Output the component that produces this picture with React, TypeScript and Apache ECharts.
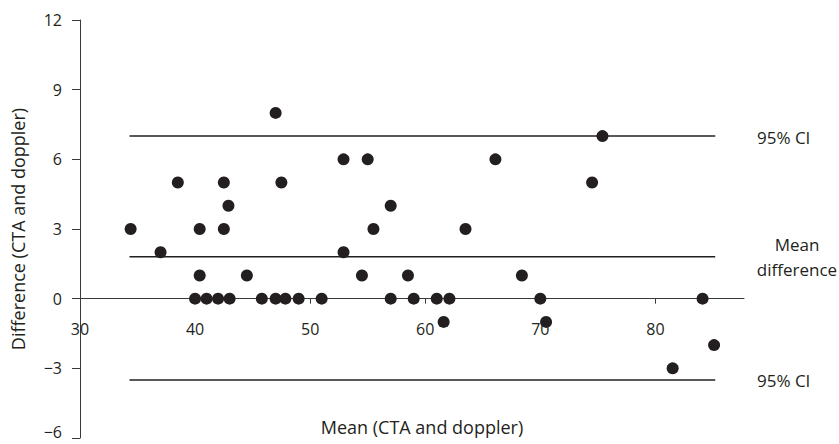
import React, { useEffect, useRef } from "react";
import * as echarts from "echarts";

// Bland–Altman points: [mean, difference]
const meanValues: number[] = [
  34.4, 40.4, 42.5, 55.5, 63.5,
  37, 52.9,
  38.5, 42.5, 47.5, 74.5,
  40.4, 44.5, 54.5, 58.5, 68.4,
  42.9, 57,
  47,
  52.9, 55, 66.1,
  75.4,
  40, 41, 42, 43, 45.8, 47, 47.85, 49, 51, 57, 59, 61, 62.1, 70, 84.1,
  61.6, 70.5,
  81.5,
  85.1,
];
const diffValues: number[] = [
  3, 3, 3, 3, 3,
  2, 2,
  5, 5, 5, 5,
  1, 1, 1, 1, 1,
  4, 4,
  8,
  6, 6, 6,
  7,
  0, 0, 0, 0, 0, 0, 0, 0, 0, 0, 0, 0, 0, 0, 0,
  -1, -1,
  -3,
  -2,
];

const meanDifference = 1.8;
const upperCI = 7;
const lowerCI = -3.5;
const lineStart = 34.3;
const lineEnd = 85.2;

const yTicks = { min: -6, max: 12, interval: 3 };
const xTicks = { min: 30, max: 87.7, interval: 10 };

const xAxisName = "Mean (CTA and doppler)";
const yAxisName = "Difference (CTA and doppler)";
const ciLabel = "95% CI";
const meanLabel = "Mean\ndifference";

const FONT = "'Open Sans', sans-serif";
const INK = "#231f20";

const GRID = { left: 80, right: 95, top: 20, bottom: 6 };
const HEIGHT = 444;

export default function App() {
  const ref = useRef<HTMLDivElement>(null);
  useEffect(() => {
    if (!ref.current) return;
    const chart = echarts.init(ref.current, undefined, { renderer: "svg" });
    const points = meanValues.map((m, i) => [m, diffValues[i]]);
    const gridHeight = HEIGHT - GRID.top - GRID.bottom;
    // move the x axis up so it crosses the y axis at 0
    const zeroOffset = -((0 - yTicks.min) / (yTicks.max - yTicks.min)) * gridHeight;
    const refLine = (y: number) => ({
      type: "line",
      data: [
        [lineStart, y],
        [lineEnd, y],
      ],
      showSymbol: false,
      symbol: "none",
      silent: true,
      lineStyle: { color: INK, width: 1.5 },
      z: 1,
    });
    const annot = (x: number, y: number, text: string, align: string) => ({
      type: "text",
      x,
      y,
      style: {
        text,
        fontFamily: FONT,
        fontSize: 17,
        lineHeight: 25,
        fill: INK,
        textAlign: align,
        textVerticalAlign: "middle",
      },
    });
    chart.setOption({
      animation: false,
      grid: { ...GRID, containLabel: false, outerBoundsMode: "none" },
      xAxis: {
        type: "value",
        position: "bottom",
        offset: zeroOffset,
        min: xTicks.min,
        max: xTicks.max,
        interval: xTicks.interval,
        name: xAxisName,
        nameLocation: "middle",
        nameGap: 119,
        nameTextStyle: { fontFamily: FONT, fontSize: 18, color: INK, padding: [0, 0, 0, 20] },
        axisLine: { onZero: false, lineStyle: { color: "#3a3a3a", width: 1 } },
        axisTick: { show: true, length: 5, lineStyle: { color: "#3a3a3a" } },
        axisLabel: {
          showMaxLabel: false,
          margin: 22,
          fontFamily: FONT,
          fontSize: 16,
          color: INK,
        },
        splitLine: { show: false },
      },
      yAxis: {
        type: "value",
        min: yTicks.min,
        max: yTicks.max,
        interval: yTicks.interval,
        name: yAxisName,
        nameLocation: "middle",
        nameGap: 53,
        nameRotate: 90,
        nameTextStyle: { fontFamily: FONT, fontSize: 18, color: INK },
        axisLine: { show: true, lineStyle: { color: "#3a3a3a", width: 1 } },
        axisTick: { show: true, length: 8, lineStyle: { color: "#3a3a3a" } },
        axisLabel: {
          margin: 18,
          fontFamily: FONT,
          fontSize: 16,
          lineHeight: 13,
          color: INK,
          formatter: (v: number) => {
            const s = v < 0 ? "\u2212" + Math.abs(v) : String(v);
            // lift the bottom-most label so it stays inside the page
            return v === yTicks.min ? s + "\n " : s;
          },
        },
        splitLine: { show: false },
      },
      series: [
        refLine(upperCI),
        refLine(meanDifference),
        refLine(lowerCI),
        {
          type: "scatter",
          data: points,
          symbol: "circle",
          symbolSize: 12,
          itemStyle: { color: INK, opacity: 1 },
          z: 3,
        },
      ],
      graphic: [
        annot(757, 137, ciLabel, "left"),
        annot(797, 257, meanLabel, "center"),
        annot(757, 380, ciLabel, "left"),
      ],
    });
    return () => chart.dispose();
  }, []);
  return (
    <div
      ref={ref}
      style={{ position: "fixed", left: 0, top: 0, width: 839, height: 444, background: "#fff" }}
    />
  );
}
